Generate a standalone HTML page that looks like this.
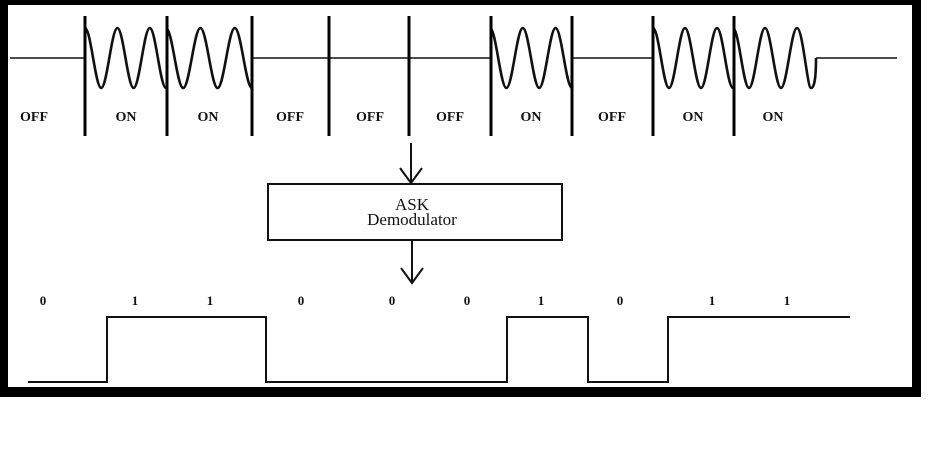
<!DOCTYPE html>
<html><head><meta charset="utf-8"><style>
html,body{margin:0;padding:0;background:#fff;width:928px;height:460px;overflow:hidden}
svg{display:block}
text{font-family:"Liberation Serif",serif;fill:#111}
</style></head><body>
<svg width="928" height="460" viewBox="0 0 928 460" xmlns="http://www.w3.org/2000/svg">
<rect x="0" y="0" width="928" height="460" fill="#fff"/>
<!-- frame -->
<rect x="0" y="0" width="920" height="5" fill="#000"/>
<rect x="0" y="0" width="8" height="397" fill="#000"/>
<rect x="912" y="0" width="9" height="397" fill="#000"/>
<rect x="0" y="387" width="921" height="10" fill="#000"/>
<g fill="none" stroke="#111" stroke-width="1.5">
<line x1="10" y1="58" x2="85" y2="58"/>
<line x1="252" y1="58" x2="490" y2="58"/>
<line x1="572" y1="58" x2="653" y2="58"/>
<line x1="816" y1="58" x2="897" y2="58"/>
</g>
<g fill="none" stroke="#111" stroke-width="2.6">
<path d="M85,28 C90.8,28 95.4,88 101.2,88 S111.6,28 117.4,28 S127.8,88 133.6,88 S144,28 149.8,28 S160.2,88 166,88"/>
<path d="M166,28 C172.2,28 177,88 183.2,88 S194.2,28 200.4,28 S211.4,88 217.6,88 S228.6,28 234.8,28 S245.8,88 252,88"/>
<path d="M490,28 C495.9,28 500.5,88 506.4,88 S516.9,28 522.8,28 S533.3,88 539.2,88 S549.7,28 555.6,28 S566.1,88 572,88"/>
<path d="M653,28 C658.8,28 663.2,88 669,88 S679.2,28 685,28 S695.2,88 701,88 S711.2,28 717,28 S727.2,88 733,88"/>
<path d="M733,28 C738.8,28 743.2,88 749,88 S759.2,28 765,28 S775.2,88 781,88 S791.2,28 797,28 S807.2,88 811,88 Q816,88 816,58"/>
</g>
<g stroke="#000" stroke-width="3">
<line x1="85" y1="16" x2="85" y2="136"/>
<line x1="167" y1="16" x2="167" y2="136"/>
<line x1="252" y1="16" x2="252" y2="136"/>
<line x1="329" y1="16" x2="329" y2="136"/>
<line x1="409" y1="16" x2="409" y2="136"/>
<line x1="491" y1="16" x2="491" y2="136"/>
<line x1="572" y1="16" x2="572" y2="136"/>
<line x1="653" y1="16" x2="653" y2="136"/>
<line x1="734" y1="16" x2="734" y2="136"/>
</g>
<g font-size="14" font-weight="bold" text-anchor="middle">
<text x="34" y="121">OFF</text>
<text x="126" y="121">ON</text>
<text x="208" y="121">ON</text>
<text x="290" y="121">OFF</text>
<text x="370" y="121">OFF</text>
<text x="450" y="121">OFF</text>
<text x="531" y="121">ON</text>
<text x="612" y="121">OFF</text>
<text x="693" y="121">ON</text>
<text x="773" y="121">ON</text>
</g>
<!-- arrows and box -->
<g fill="none" stroke="#111" stroke-width="2">
<line x1="411" y1="143" x2="411" y2="183"/>
<polyline points="400,168 411,183 422,168"/>
<line x1="412" y1="240" x2="412" y2="283"/>
<polyline points="401,268 412,283 423,268"/>
<rect x="268" y="184" width="294" height="56" stroke-width="2"/>
</g>
<g font-size="17" text-anchor="middle">
<text x="412" y="210">ASK</text>
<text x="412" y="225">Demodulator</text>
</g>
<!-- digital -->
<g font-size="13" font-weight="bold" text-anchor="middle">
<text x="43" y="305">0</text>
<text x="135" y="305">1</text>
<text x="210" y="305">1</text>
<text x="301" y="305">0</text>
<text x="392" y="305">0</text>
<text x="467" y="305">0</text>
<text x="541" y="305">1</text>
<text x="620" y="305">0</text>
<text x="712" y="305">1</text>
<text x="787" y="305">1</text>
</g>
<polyline fill="none" stroke="#111" stroke-width="2" points="28,382 107,382 107,317 266,317 266,382 507,382 507,317 588,317 588,382 668,382 668,317 850,317"/>
</svg>
</body></html>
